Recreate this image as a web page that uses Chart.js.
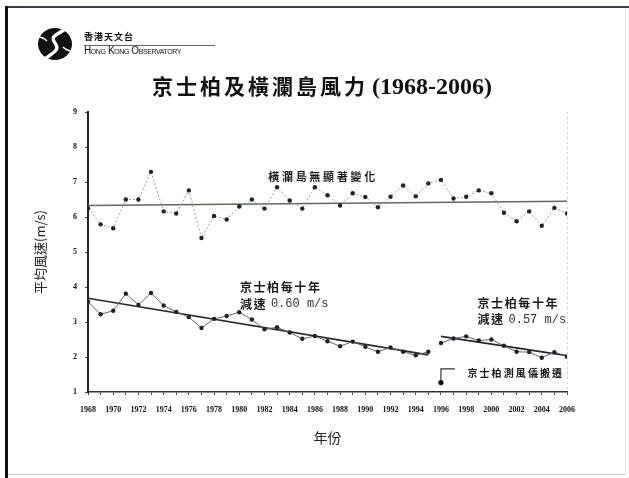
<!DOCTYPE html>
<html>
<head>
<meta charset="utf-8">
<title>京士柏及橫瀾島風力 (1968-2006)</title>
<script src="https://cdn.jsdelivr.net/npm/chart.js@4.4.1/dist/chart.umd.min.js"></script>
<style>
  html, body { margin: 0; padding: 0; background: #fff; }
  #wrap { position: relative; width: 629px; height: 478px; overflow: hidden; background: #fff; }
  #chart { position: absolute; left: 0; top: 0; }
  .frame { position: absolute; }
  #frameTop { left: 5px; top: 6px; width: 624px; height: 2px; background: #3c3c58; }
  #frameLeft { left: 5px; top: 6px; width: 3px; height: 472px; background: #111; }
  #frameBottom { left: 8px; top: 474px; width: 617px; height: 1px; background: #c8c8c8; }
  #frameRight { left: 625px; top: 8px; width: 1px; height: 466px; background: #e2e2e2; }
  #logo { position: absolute; left: 37px; top: 27px; }
  #logoZh { position: absolute; left: 84px; top: 30px; font: bold 9px "Noto Sans CJK TC"; letter-spacing: 1px; color: #111; }
  #logoRule { position: absolute; left: 84px; top: 45px; width: 131px; height: 1px; background: #666; }
  #logoEn { position: absolute; left: 84px; top: 45px; font: 10px "Liberation Sans"; font-variant: small-caps; letter-spacing: -0.4px; color: #111; }
  #title { position: absolute; left: 0; top: 70px; width: 644px; text-align: center; line-height: 32px; color: #111; white-space: nowrap; }
  #title .zh { font: bold 21px "Noto Sans CJK TC"; letter-spacing: 3px; }
  #title .yr { font: bold 24px "Liberation Serif"; }
</style>
</head>
<body>
<div id="wrap">
  <canvas id="chart" width="629" height="478"></canvas>
  <div class="frame" id="frameTop"></div>
  <div class="frame" id="frameLeft"></div>
  <div class="frame" id="frameBottom"></div>
  <div class="frame" id="frameRight"></div>
  <svg id="logo" width="36" height="34" viewBox="0 0 36 34">
    <ellipse cx="18" cy="17" rx="17" ry="16" fill="#111"/>
    <path d="M29 1 C 22 8, 12 8, 18 16 C 24 24, 14 26, 7 33" stroke="#fff" stroke-width="3.4" fill="none"/>
    <path d="M1 10 C 5 10, 8 12, 10 14" stroke="#fff" stroke-width="1.6" fill="none"/>
    <path d="M35 24 C 31 24, 28 22, 26 20" stroke="#fff" stroke-width="1.6" fill="none"/>
  </svg>
  <div id="logoZh">香港天文台</div>
  <div id="logoRule"></div>
  <div id="logoEn">Hong Kong Observatory</div>
  <div id="title"><span class="zh">京士柏及橫瀾島風力</span> <span class="yr">(1968-2006)</span></div>
</div>
<script>
// years on the x axis
const years = [
  1968, 1969, 1970, 1971, 1972, 1973, 1974, 1975, 1976, 1977,
  1978, 1979, 1980, 1981, 1982, 1983, 1984, 1985, 1986, 1987,
  1988, 1989, 1990, 1991, 1992, 1993, 1994, 1995, 1996, 1997,
  1998, 1999, 2000, 2001, 2002, 2003, 2004, 2005, 2006,
];
const yearTickLabels = [
  1968, 1970, 1972, 1974, 1976, 1978, 1980, 1982, 1984, 1986,
  1988, 1990, 1992, 1994, 1996, 1998, 2000, 2002, 2004, 2006,
];
const speedTicks = [1, 2, 3, 4, 5, 6, 7, 8, 9];

// annual mean wind speed (m/s)
const waglan = [
  6.25, 5.79, 5.68, 6.5, 6.5, 7.29, 6.16, 6.1, 6.76, 5.4,
  6.03, 5.93, 6.3, 6.5, 6.24, 6.85, 6.47, 6.24, 6.85, 6.62,
  6.33, 6.68, 6.57, 6.28, 6.58, 6.9, 6.59, 6.96, 7.06, 6.53,
  6.58, 6.76, 6.68, 6.12, 5.88, 6.16, 5.75, 6.26, 6.1,
];
const kingsPark = [
  3.58, 3.22, 3.32, 3.81, 3.49, 3.83, 3.47, 3.29, 3.14, 2.83,
  3.09, 3.17, 3.28, 3.07, 2.79, 2.85, 2.7, 2.52, 2.6, 2.45,
  2.31, 2.44, 2.29, 2.15, 2.27, 2.15, 2.05, 2.15, 2.4, 2.53,
  2.59, 2.47, 2.5, 2.32, 2.15, 2.14, 1.98, 2.14, 2.01,
];
const relocationYear = 1996;

// fitted lines: [start year, end year] and [start value, end value]
const waglanTrendYears = [1968, 2006];
const waglanTrend = [6.33, 6.45];
const kpTrendOldYears = [1968, 1995];
const kpTrendOld = [3.68, 2.06];
const kpTrendNewYears = [1996, 2006];
const kpTrendNew = [2.59, 2.04];

// relocation marker: bracket drawn from the point up and to the right
const markerYears = [1996, 1996, 1997.1];
const markerValues = [1.27, 1.66, 1.66];

function toPoints(xs, ys) {
  return xs.map((x, i) => ({ x: x, y: ys[i] }));
}

const splitAt = years.indexOf(relocationYear);
const kpOld = toPoints(years.slice(0, splitAt), kingsPark.slice(0, splitAt));
const kpNew = toPoints(years.slice(splitAt), kingsPark.slice(splitAt));

const cjk = '"Noto Sans CJK TC", "Noto Sans CJK SC", sans-serif';

// text notes placed with the chart scales
const notesPlugin = {
  id: "notes",
  afterDatasetsDraw(chart) {
    const { ctx, chartArea, scales } = chart;
    const x = scales.x;
    const y = scales.y;
    ctx.save();

    // faint right edge of the plot box
    ctx.strokeStyle = "#cfcfcf";
    ctx.lineWidth = 1;
    ctx.setLineDash([2, 3]);
    ctx.beginPath();
    ctx.moveTo(chartArea.right + 0.5, chartArea.top);
    ctx.lineTo(chartArea.right + 0.5, chartArea.bottom);
    ctx.stroke();
    ctx.setLineDash([]);

    ctx.fillStyle = "#1a1a1a";
    ctx.textBaseline = "middle";
    ctx.textAlign = "left";

    function zh(text, year, value, font, spacing) {
      ctx.font = font;
      ctx.letterSpacing = spacing + "px";
      ctx.fillText(text, x.getPixelForValue(year), y.getPixelForValue(value));
      const w = ctx.measureText(text).width;
      ctx.letterSpacing = "0px";
      return w;
    }
    function rate(prefix, amount, year, value) {
      const w = zh(prefix, year, value, "bold 12px " + cjk, 1.5);
      ctx.font = "12px 'Liberation Mono'";
      ctx.fillStyle = "#333";
      ctx.fillText(amount, x.getPixelForValue(year) + w + 4, y.getPixelForValue(value));
      ctx.fillStyle = "#1a1a1a";
    }

    zh("橫瀾島無顯著變化", 1982.3, 7.14, "bold 11px " + cjk, 2.7);

    zh("京士柏每十年", 1980.05, 4.0, "bold 12px " + cjk, 1.6);
    rate("減速", "0.60 m/s", 1980.05, 3.51);

    zh("京士柏每十年", 1998.9, 3.54, "bold 12px " + cjk, 1.6);
    rate("減速", "0.57 m/s", 1998.9, 3.06);

    zh("京士柏測風儀搬遷", 1998.1, 1.55, "bold 10px " + cjk, 2.1);

    ctx.restore();
  },
};

document.addEventListener("DOMContentLoaded", () => {
  const ctx = document.getElementById("chart").getContext("2d");
  new Chart(ctx, {
    type: "line",
    data: {
      datasets: [
        {
          label: "橫瀾島",
          data: toPoints(years, waglan),
          borderColor: "#9a9a9a",
          borderWidth: 1,
          borderDash: [2, 2],
          pointRadius: 2.2,
          pointBackgroundColor: "#222",
          pointBorderWidth: 0,
          tension: 0,
        },
        {
          label: "橫瀾島趨勢",
          data: toPoints(waglanTrendYears, waglanTrend),
          borderColor: "#5d6b5d",
          borderWidth: 1.5,
          pointRadius: 0,
        },
        {
          label: "京士柏 (搬遷前)",
          data: kpOld,
          borderColor: "#666",
          borderWidth: 1,
          pointRadius: 2.2,
          pointBackgroundColor: "#222",
          pointBorderWidth: 0,
          tension: 0,
        },
        {
          label: "京士柏 (搬遷後)",
          data: kpNew,
          borderColor: "#666",
          borderWidth: 1,
          pointRadius: 2.2,
          pointBackgroundColor: "#222",
          pointBorderWidth: 0,
          tension: 0,
        },
        {
          label: "京士柏趨勢 1968-1995",
          data: toPoints(kpTrendOldYears, kpTrendOld),
          borderColor: "#262636",
          borderWidth: 1.6,
          pointRadius: 0,
        },
        {
          label: "京士柏趨勢 1996-2006",
          data: toPoints(kpTrendNewYears, kpTrendNew),
          borderColor: "#262636",
          borderWidth: 1.6,
          pointRadius: 0,
        },
        {
          label: "測風儀搬遷",
          data: toPoints(markerYears, markerValues),
          borderColor: "#333",
          borderWidth: 1.2,
          pointRadius: [2.6, 0, 0],
          pointBackgroundColor: "#111",
          pointBorderWidth: 0,
        },
      ],
    },
    options: {
      responsive: false,
      animation: false,
      events: [],
      layout: {
        padding: { left: 0, right: 62, top: 112, bottom: 16 },
      },
      plugins: {
        legend: { display: false },
        tooltip: { enabled: false },
        title: { display: false },
      },
      scales: {
        x: {
          type: "linear",
          min: years[0],
          max: years[years.length - 1],
          afterFit: (scale) => {
            scale.height = 70;
          },
          afterBuildTicks: (scale) => {
            scale.ticks = years.map((v) => ({ value: v }));
          },
          ticks: {
            autoSkip: false,
            maxRotation: 0,
            padding: 10,
            color: "#111",
            font: { family: "Liberation Serif", size: 8, weight: "bold" },
            callback: (value) =>
              yearTickLabels.includes(value) ? String(value) : "",
          },
          grid: {
            drawOnChartArea: false,
            tickLength: 3,
            color: "#444",
          },
          border: { color: "#333", width: 1.5 },
          title: {
            display: true,
            text: "年份",
            color: "#222",
            font: { family: cjk, size: 14 },
            padding: { top: 0, bottom: 16 },
          },
        },
        y: {
          min: speedTicks[0],
          max: speedTicks[speedTicks.length - 1],
          afterFit: (scale) => {
            scale.width = 88;
          },
          afterBuildTicks: (scale) => {
            scale.ticks = speedTicks.map((v) => ({ value: v }));
          },
          ticks: {
            padding: 8,
            color: "#111",
            font: { family: "Liberation Serif", size: 8, weight: "bold" },
          },
          grid: {
            drawOnChartArea: false,
            tickLength: 3,
            color: "#444",
          },
          border: { color: "#222", width: 2 },
          title: {
            display: true,
            text: "平均風速(m/s)",
            color: "#222",
            font: { family: cjk, size: 13 },
            padding: { top: 32, bottom: 0 },
          },
        },
      },
    },
    plugins: [notesPlugin],
  });
});
</script>
</body>
</html>
